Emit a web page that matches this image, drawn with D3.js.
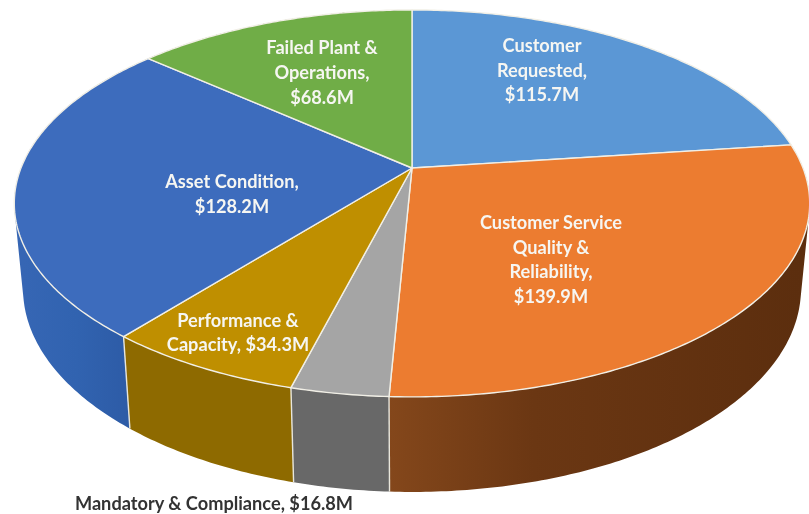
<!DOCTYPE html>
<html>
<head>
<meta charset="utf-8">
<script src="https://cdn.jsdelivr.net/npm/d3@7/dist/d3.min.js"></script>
<style>
html,body{margin:0;padding:0;background:#fff;overflow:hidden}
svg{display:block;filter:blur(0.4px)}
text{font-family:Lato,"Open Sans",sans-serif;font-weight:700}
</style>
</head>
<body>
<svg id="chart" width="809" height="514"></svg>
<script>
const categories = ["Customer Requested","Customer Service Quality & Reliability","Mandatory & Compliance","Performance & Capacity","Asset Condition","Failed Plant & Operations"];
const values = [115.7,139.9,16.8,34.3,128.2,68.6];
const topColors = ["#5b97d5","#ec7c30","#a5a5a5","#bf8f00","#3d6cbd","#70ad47"];
const sideStart = [null,"#84471b",null,null,"#3666b4",null];
const sideMid = [null,"#6b3713",null,null,"#3163b0",null];
const sideEnd = [null,"#5c2e0e",null,null,"#2d5ba6",null];
const sideFlat = [null,null,"#686868","#8e6a00",null,null];
const labelLines = [
  ["Customer","Requested,","$115.7M"],
  ["Customer Service","Quality &","Reliability,","$139.9M"],
  ["Mandatory & Compliance, $16.8M"],
  ["Performance &","Capacity, $34.3M"],
  ["Asset Condition,","$128.2M"],
  ["Failed Plant &","Operations,","$68.6M"]
];
const labelX = [542,551,214,238,232,322];
const labelY = [52,229,510,327,188,54];
const labelLead = [24.5,24.7,0,24,25,25];

const cx = 412, cy = 168, ax = 391, ay = 187, k = 0.183;
const sx = 0.978, dy = 95, sy = 0.05, yRef = 396;

const svg = d3.select("#chart");
const defs = svg.append("defs");
const pie = d3.pie().sort(null).value(d => d).startAngle(0).endAngle(2*Math.PI);
const arcs = pie(values);

function rimTop(a){
  const u = Math.sin(a), v = -Math.cos(a), w = 1 - k*v;
  return [cx + ax*u/w, cy + ay*v/w];
}
function rimBottom(a){
  const [x,y] = rimTop(a);
  return [cx + (x-cx)*sx, y + dy - (yRef-y)*sy];
}
const line = d3.line();
const samples = (a0,a1) => {
  const n = Math.max(4, Math.ceil((a1-a0)*90));
  return d3.range(n+1).map(i => a0 + (a1-a0)*i/n);
};

// extruded rim: swept quads in one path, all wound the same way, so the tangent area fills without seams
const sides = svg.append("g");
arcs.forEach((d,i) => {
  const visible = d.endAngle > Math.PI/2 && d.startAngle < Math.PI*1.8;
  if (!visible) return;
  const s = samples(d.startAngle,d.endAngle);
  let fill = sideFlat[i];
  if (!fill) {
    const id = "side"+i;
    const xs = s.map(a => rimBottom(a)[0]);
    const lo = d3.min(xs), hi = i===1 ? d3.max(xs) : rimBottom(d.startAngle)[0];
    const g = defs.append("linearGradient").attr("id",id).attr("gradientUnits","userSpaceOnUse")
      .attr("x1",lo).attr("x2",hi).attr("y1",0).attr("y2",0);
    [0,i===1?0.35:0.5,1].forEach((o,j)=>g.append("stop").attr("offset",o).attr("stop-color",[sideStart[i],sideMid[i],sideEnd[i]][j]));
    fill = `url(#${id})`;
  }
  const dPath = d3.pairs(s).map(([a,b]) => {
    const q = [rimTop(a),rimTop(b),rimBottom(b),rimBottom(a)];
    if (d3.polygonArea(q) < 0) q.reverse();
    return line(q)+"Z";
  }).join("");
  sides.append("path").attr("d",dPath).attr("fill",fill).attr("fill-rule","nonzero");
});
// seams on the rim
[arcs[1].endAngle, arcs[2].endAngle, arcs[3].endAngle].forEach(a => {
  sides.append("path").attr("d",line([rimTop(a),rimBottom(a)]))
    .attr("stroke","#e8e6dc").attr("stroke-width",1.4).attr("fill","none");
});

// top faces
const faces = svg.append("g");
arcs.forEach((d,i) => {
  const pts = [[cx,cy]].concat(samples(d.startAngle,d.endAngle).map(rimTop));
  faces.append("path").attr("d",line(pts)+"Z")
    .attr("fill",topColors[i]).attr("stroke","#f1efe6").attr("stroke-width",1.4).attr("stroke-linejoin","round");
});

// labels
const labels = svg.append("g").attr("text-anchor","middle").attr("font-size",18.2);
labelLines.forEach((lines,i) => {
  lines.forEach((t,j) => {
    labels.append("text").attr("x",labelX[i]).attr("y",labelY[i]+j*labelLead[i])
      .attr("fill", i===2 ? "#333333" : "#f6f6f2").text(t);
  });
});
</script>
</body>
</html>
